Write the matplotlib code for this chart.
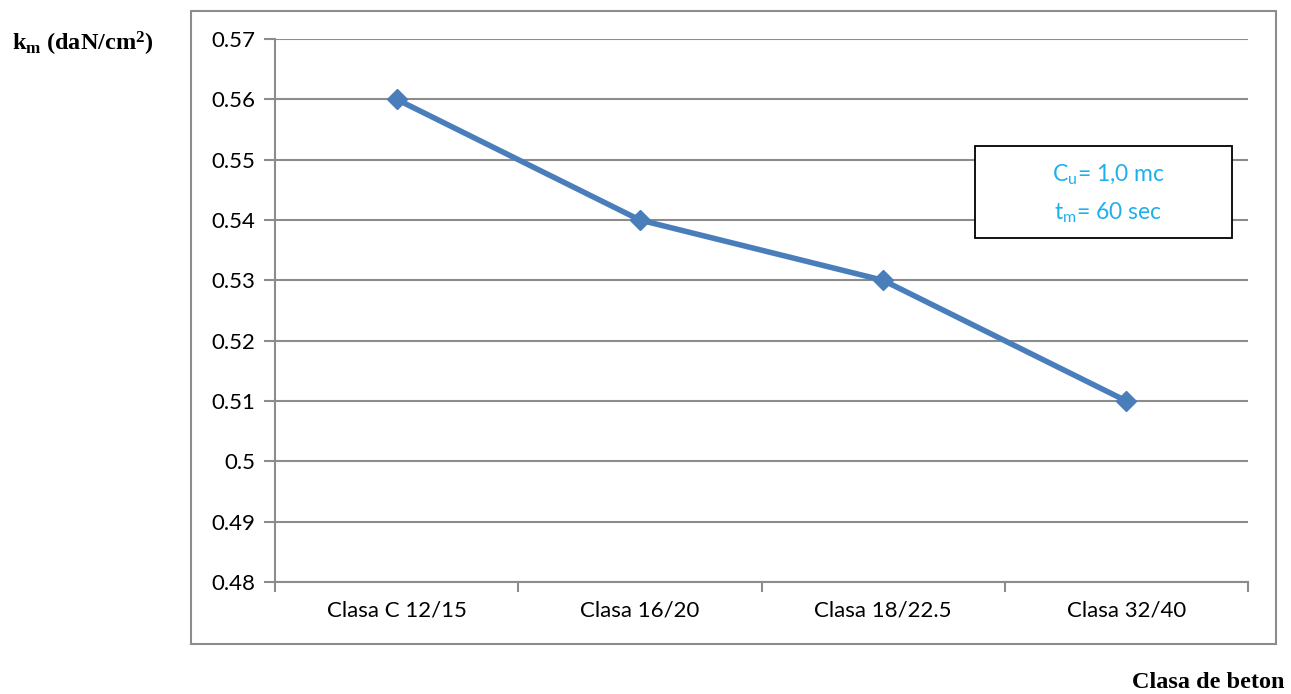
import matplotlib.pyplot as plt
from matplotlib.patches import Rectangle

clase = ["Clasa C 12/15", "Clasa 16/20", "Clasa 18/22.5", "Clasa 32/40"]
km = [0.56, 0.54, 0.53, 0.51]
y_ticks = [0.48, 0.49, 0.5, 0.51, 0.52, 0.53, 0.54, 0.55, 0.56, 0.57]
y_labels = ["0.48", "0.49", "0.5", "0.51", "0.52", "0.53", "0.54", "0.55", "0.56", "0.57"]

W, H = 1291, 694
gray = "#8c8c8c"

plt.rcParams["font.family"] = ["Lato", "DejaVu Sans"]
plt.rcParams["mathtext.default"] = "regular"

fig = plt.figure(figsize=(W / 100, H / 100), dpi=100)
fig.patch.set_facecolor("white")

# chart border
fig.patches.append(Rectangle((191 / W, 1 - 644 / H), (1276 - 191) / W, (644 - 11) / H,
                             transform=fig.transFigure, fill=False,
                             edgecolor=gray, linewidth=1.5))

ax = fig.add_axes([275 / W, 1 - 582 / H, (1248 - 275) / W, (582 - 39) / H])
x = list(range(len(clase)))
ax.plot(x, km, color="#4a7ebb", linewidth=4, marker="D", markersize=10,
        markerfacecolor="#4a7ebb", markeredgecolor="#4a7ebb", zorder=3)

ax.set_xlim(-0.5, len(clase) - 0.5)
ax.set_ylim(0.48, 0.57)
ax.set_yticks(y_ticks)
ax.set_yticklabels(y_labels, fontsize=16)
ax.set_xticks(x)
ax.set_xticklabels(clase, fontsize=16)
ax.set_xticks([i - 0.5 for i in range(len(clase) + 1)], minor=True)
ax.tick_params(axis="x", which="major", length=0, pad=13)
ax.tick_params(axis="x", which="minor", length=7, width=1.5, color=gray)
ax.tick_params(axis="y", length=8, width=1.5, color=gray, pad=6)
ax.grid(axis="y", color=gray, linewidth=1.5)
ax.set_axisbelow(True)
for side in ["top", "right"]:
    ax.spines[side].set_visible(False)
for side in ["left", "bottom"]:
    ax.spines[side].set_color(gray)
    ax.spines[side].set_linewidth(1.5)

# info box
fig.patches.append(Rectangle((975 / W, 1 - 238 / H), (1232 - 975) / W, (238 - 146) / H,
                             transform=fig.transFigure, facecolor="white",
                             edgecolor="black", linewidth=1.3, zorder=5))
fig.text(1108 / W, 1 - 175 / H, "C$_{u}$= 1,0 mc", color="#1fb0ec", fontsize=16.5,
         ha="center", va="center", zorder=6)
fig.text(1108 / W, 1 - 213 / H, "t$_{m}$= 60 sec", color="#1fb0ec", fontsize=16.5,
         ha="center", va="center", zorder=6)

fig.text(12 / W, 1 - 44 / H, "k$_{m}$ (daN/cm$^{2}$)", fontsize=17.5, fontweight="bold",
         family="Liberation Serif", ha="left", va="center")
fig.text(1285 / W, 1 - 683 / H, "Clasa de beton", fontsize=17.5, fontweight="bold",
         family="Liberation Serif", ha="right", va="center")

fig.savefig("out.png", dpi=100)
